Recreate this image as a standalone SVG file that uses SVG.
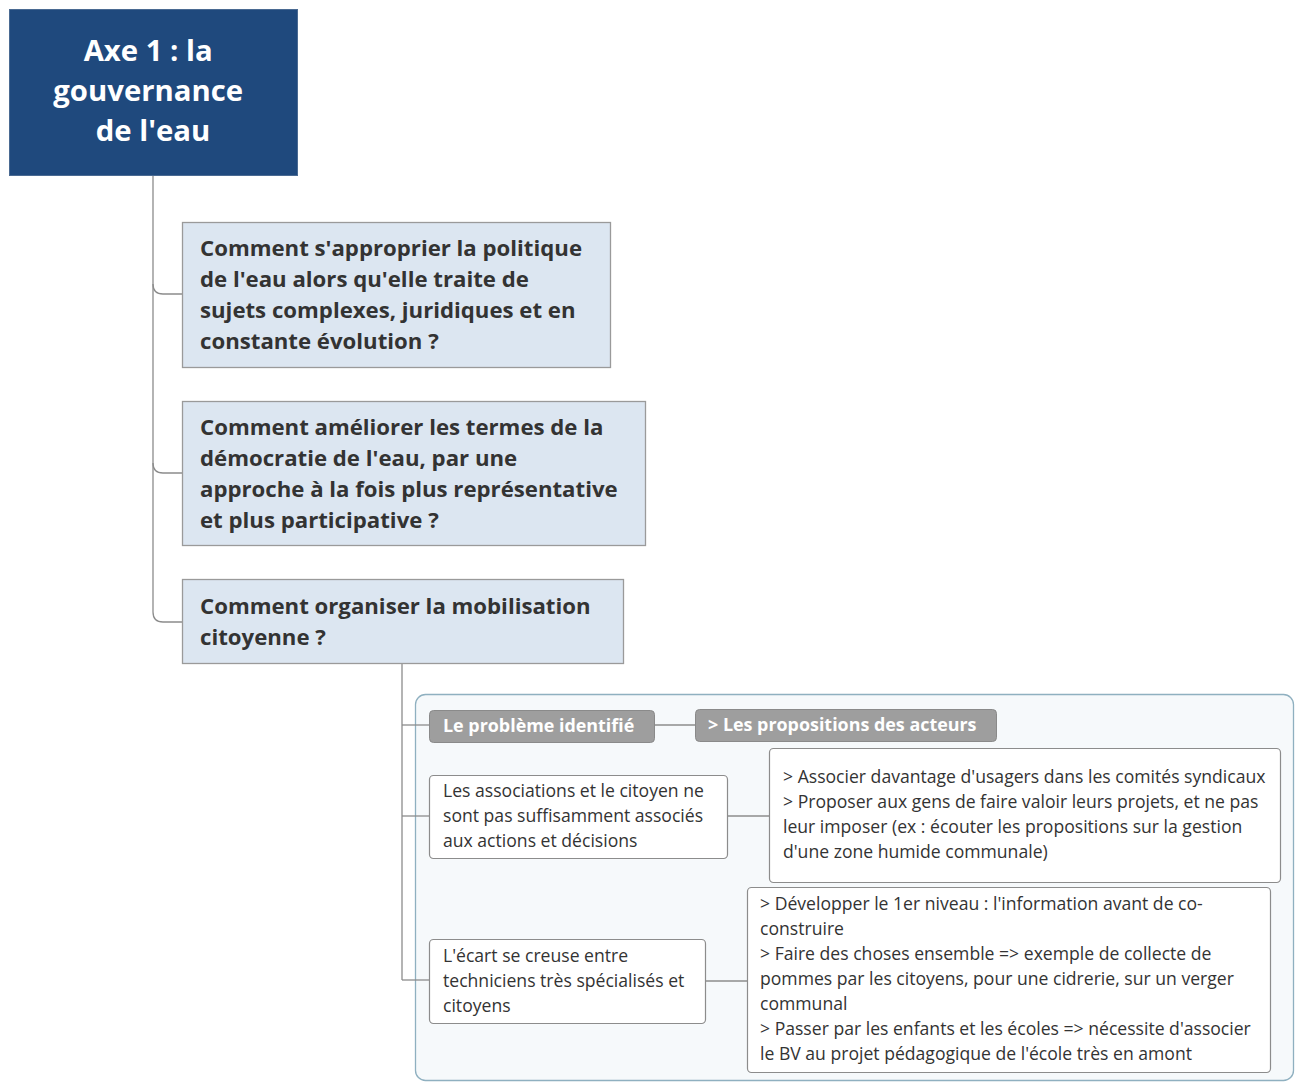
<svg xmlns="http://www.w3.org/2000/svg" width="1297" height="1082" viewBox="0 0 1297 1082">
<style>
.conn{fill:none;stroke:#8c8c8c;stroke-width:1.3}
.q{fill:#dce6f1;stroke:#9a9a9a;stroke-width:1.3}
.qt{font-family:"Open Sans","Liberation Sans",sans-serif;font-weight:bold;font-size:22.2px;fill:#333}
.hd{fill:#9e9e9e;stroke:#8a8a8a;stroke-width:1}
.ht{font-family:"Open Sans","Liberation Sans",sans-serif;font-weight:bold;font-size:17.9px;fill:#fff}
.bx{fill:#fff;stroke:#8c8c8c;stroke-width:1.2}
.bt{font-family:"Open Sans","Liberation Sans",sans-serif;font-size:17.6px;fill:#333}
</style>
<rect width="1297" height="1082" fill="#fff"/>
<g id="container">
<rect x="415.5" y="694.5" width="878" height="386" rx="10" fill="#f6f9fb" stroke="#8fb0c0" stroke-width="1.3"/>
</g>
<g id="connectors">
<path class="conn" d="M153 175 V284 Q153 294 163 294 H182"/>
<path class="conn" d="M153 284 V463 Q153 473 163 473 H182"/>
<path class="conn" d="M153 463 V612 Q153 622 163 622 H182"/>
<path class="conn" d="M402 663 V980"/>
<path class="conn" d="M402 725 H429"/>
<path class="conn" d="M402 816 H429"/>
<path class="conn" d="M402 980 H429"/>
<path class="conn" d="M654 725 H695"/>
<path class="conn" d="M727 816 H769"/>
<path class="conn" d="M705 981 H747"/>
</g>
<g id="root">
<rect x="9.5" y="9.5" width="288" height="166" fill="#1f497d" stroke="#4a6a92" stroke-width="1"/>
<text font-family="'Open Sans','Liberation Sans',sans-serif" font-weight="bold" font-size="29.3" fill="#fff" text-anchor="middle">
<tspan x="152" y="61">Axe 1 : la</tspan>
<tspan x="152" y="101">gouvernance</tspan>
<tspan x="153" y="141">de l'eau</tspan>
</text>
</g>
<g id="q1">
<rect class="q" x="182.5" y="222.5" width="428" height="145"/>
<text class="qt"><tspan x="200" y="256">Comment s'approprier la politique</tspan><tspan x="200" y="287">de l'eau alors qu'elle traite de</tspan><tspan x="200" y="318">sujets complexes, juridiques et en</tspan><tspan x="200" y="349">constante évolution ?</tspan></text>
</g>
<g id="q2">
<rect class="q" x="182.5" y="401.5" width="463" height="144"/>
<text class="qt"><tspan x="200" y="435">Comment améliorer les termes de la</tspan><tspan x="200" y="466">démocratie de l'eau, par une</tspan><tspan x="200" y="497">approche à la fois plus représentative</tspan><tspan x="200" y="528">et plus participative ?</tspan></text>
</g>
<g id="q3">
<rect class="q" x="182.5" y="579.5" width="441" height="84"/>
<text class="qt"><tspan x="200" y="614">Comment organiser la mobilisation</tspan><tspan x="200" y="645">citoyenne ?</tspan></text>
</g>
<g id="h1">
<rect class="hd" x="429.5" y="710.5" width="225" height="32" rx="4"/>
<text class="ht" x="443" y="732">Le problème identifié</text>
</g>
<g id="h2">
<rect class="hd" x="695.5" y="709.5" width="301" height="32" rx="4"/>
<text class="ht" x="708" y="731">&gt; Les propositions des acteurs</text>
</g>
<g id="p1">
<rect class="bx" x="429.5" y="775.5" width="298" height="83" rx="4"/>
<text class="bt"><tspan x="443" y="797">Les associations et le citoyen ne</tspan><tspan x="443" y="822">sont pas suffisamment associés</tspan><tspan x="443" y="847">aux actions et décisions</tspan></text>
</g>
<g id="s1">
<rect class="bx" x="769.5" y="748.5" width="511" height="134" rx="4"/>
<text class="bt"><tspan x="783" y="783">&gt; Associer davantage d'usagers dans les comités syndicaux</tspan><tspan x="783" y="808">&gt; Proposer aux gens de faire valoir leurs projets, et ne pas</tspan><tspan x="783" y="833">leur imposer (ex : écouter les propositions sur la gestion</tspan><tspan x="783" y="858">d'une zone humide communale)</tspan></text>
</g>
<g id="p2">
<rect class="bx" x="429.5" y="939.5" width="276" height="84" rx="4"/>
<text class="bt"><tspan x="443" y="962">L'écart se creuse entre</tspan><tspan x="443" y="987">techniciens très spécialisés et</tspan><tspan x="443" y="1012">citoyens</tspan></text>
</g>
<g id="s2">
<rect class="bx" x="747.5" y="887.5" width="523" height="185" rx="4"/>
<text class="bt"><tspan x="760" y="910">&gt; Développer le 1er niveau : l'information avant de co-</tspan><tspan x="760" y="935">construire</tspan><tspan x="760" y="960">&gt; Faire des choses ensemble =&gt; exemple de collecte de</tspan><tspan x="760" y="985">pommes par les citoyens, pour une cidrerie, sur un verger</tspan><tspan x="760" y="1010">communal</tspan><tspan x="760" y="1035">&gt; Passer par les enfants et les écoles =&gt; nécessite d'associer</tspan><tspan x="760" y="1060">le BV au projet pédagogique de l'école très en amont</tspan></text>
</g>
</svg>
